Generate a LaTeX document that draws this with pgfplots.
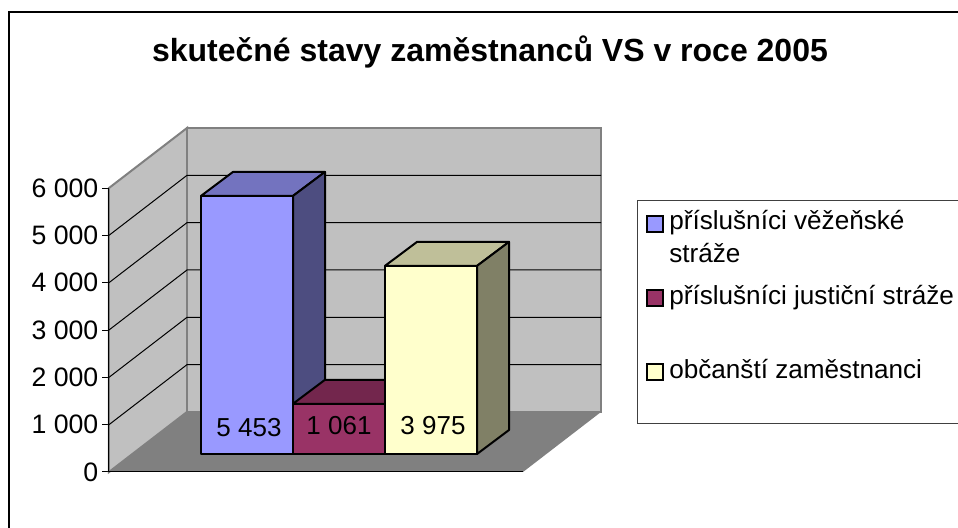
\documentclass[border=0pt]{standalone}
\usepackage{pgfplots}
\pgfplotsset{compat=1.18}
\usepackage{fontspec}
\setmainfont{Liberation Sans}
\definecolor{wall}{HTML}{C0C0C0}
\definecolor{flr}{HTML}{808080}
\definecolor{aF}{HTML}{9999FF}
\definecolor{aT}{HTML}{7373BF}
\definecolor{aS}{HTML}{4D4D80}
\definecolor{bF}{HTML}{993366}
\definecolor{bT}{HTML}{73264D}
\definecolor{bS}{HTML}{4D1A33}
\definecolor{cF}{HTML}{FFFFCC}
\definecolor{cT}{HTML}{BFBF99}
\definecolor{cS}{HTML}{808066}
% bar: x0, x1, value, front, top, side (base 380 = 18px up floor; depth 32px, 507 units)
\newcommand\barf[6]{%
  \pgfmathsetmacro\bt{#3+380}%
  \pgfmathsetmacro\btb{#3+887}%
  \pgfmathsetmacro\xa{#1+32}%
  \pgfmathsetmacro\xb{#2+32}%
  \addplot[draw=black,line width=1.5pt,fill=#5,line join=round] coordinates {(#1,\bt)(\xa,\btb)(\xb,\btb)(#2,\bt)} -- cycle;
  \addplot[draw=black,line width=1.5pt,fill=#6,line join=round] coordinates {(#2,380)(\xb,887)(\xb,\btb)(#2,\bt)} -- cycle;
  \addplot[draw=black,line width=1.5pt,fill=#4,line join=round] coordinates {(#1,380)(#1,\bt)(#2,\bt)(#2,380)} -- cycle;
}
\begin{document}
\begin{tikzpicture}[x=0.75pt,y=0.75pt]
\useasboundingbox (0,0) rectangle (958,528);
\fill[white] (0,0) rectangle (958,528);
\draw[black,line width=1.6pt] (958,516) -- (9,516) -- (9,0);
\begin{axis}[
  at={(81.75pt,42pt)},anchor=south west,
  scale only axis,width=369pt,height=258pt,
  xmin=109,xmax=601,ymin=0,ymax=7268,
  clip=false,
  axis x line=none,
  axis y line=left,
  y axis line style={draw=none},
  ytick={0,1000,2000,3000,4000,5000,6000},
  tick align=outside,
  major tick length=5pt,
  tick style={black,line width=0.75pt},
  ticklabel style={font=\fontsize{20}{24}\selectfont},
  yticklabel style={xshift=0.5pt},
  /pgf/number format/assume math mode=true,
  /pgf/number format/.cd,1000 sep={\ },
]
% walls
\addplot[draw=flr,line width=1.5pt,fill=wall] coordinates {(109,0)(109,6000)(187,7268)(187,1268)} -- cycle;
\addplot[draw=flr,line width=1.5pt,fill=wall] coordinates {(187,1268)(187,7268)(601,7268)(601,1268)} -- cycle;
\addplot[draw=none,fill=flr] coordinates {(109,0)(187,1268)(601,1268)(523,0)} -- cycle;
% gridlines
\addplot[black,line width=0.75pt] coordinates {(109,1000)(187,2268)(601,2268)};
\addplot[black,line width=0.75pt] coordinates {(109,2000)(187,3268)(601,3268)};
\addplot[black,line width=0.75pt] coordinates {(109,3000)(187,4268)(601,4268)};
\addplot[black,line width=0.75pt] coordinates {(109,4000)(187,5268)(601,5268)};
\addplot[black,line width=0.75pt] coordinates {(109,5000)(187,6268)(601,6268)};
% axis lines
\addplot[black,line width=0.75pt] coordinates {(109,0)(523,0)};
\addplot[black,line width=0.75pt] coordinates {(109,0)(109,6000)};
% bars
\barf{201}{293}{5453}{aF}{aT}{aS}
\barf{293}{385}{1061}{bF}{bT}{bS}
\barf{385}{477}{3975}{cF}{cT}{cS}
\node[font=\fontsize{19.5}{24}\selectfont] at (axis cs:249,930) {5 453};
\node[font=\fontsize{19.5}{24}\selectfont] at (axis cs:339,975) {1 061};
\node[font=\fontsize{19.5}{24}\selectfont] at (axis cs:433,975) {3 975};
\end{axis}
% title
\node[anchor=base,inner sep=0pt,font=\bfseries\fontsize{24}{28}\selectfont] at (490,466) {skutečné stavy zaměstnanců VS v roce 2005};
% legend
\draw[black!75,line width=0.75pt] (958,327) -- (637,327) -- (637,104) -- (958,104);
\foreach \yy/\cc in {296/aF,222/bF,148/cF}{
  \draw[black,line width=1pt,fill=\cc] (647,\yy) rectangle (663,\yy+16);
}
\begin{scope}[every node/.style={anchor=base west,inner sep=0pt,font=\fontsize{19.6}{24}\selectfont}]
\node at (669,298) {příslušníci věžeňské};
\node at (669,265) {stráže};
\node at (669,223) {příslušníci justiční stráže};
\node at (669,149) {občanští zaměstnanci};
\end{scope}
\end{tikzpicture}
\end{document}
